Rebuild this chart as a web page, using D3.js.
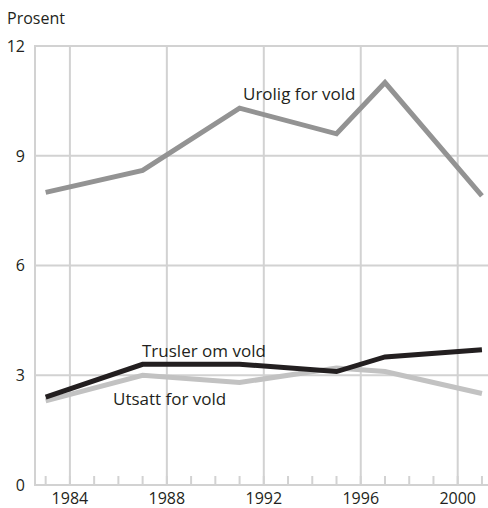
<!DOCTYPE html>
<html>
<head>
<meta charset="utf-8">
<script src="https://cdn.jsdelivr.net/npm/d3@7"></script>
<style>
  body { margin: 0; background: #fff; }
  text { font-family: "Open Sans", "Noto Sans", sans-serif; fill: #231f20; }
</style>
</head>
<body>
<div id="chart"></div>
<script>
// Data
const years = [1983, 1987, 1991, 1995, 1997, 2001];
const urolig = [8.0, 8.6, 10.3, 9.6, 11.0, 7.9];
const trusler = [2.4, 3.3, 3.3, 3.1, 3.5, 3.7];
const utsatt = [2.3, 3.0, 2.8, 3.2, 3.1, 2.5];
const yTicks = [0, 3, 6, 9, 12];
const xTicks = [1984, 1988, 1992, 1996, 2000];
const minorTicks = d3.range(1983, 2002);

const series = [
  { name: "Urolig for vold", values: urolig, color: "#939393", lx: 243, ly: 100 },
  { name: "Utsatt for vold", values: utsatt, color: "#c2c2c2", lx: 113, ly: 405 },
  { name: "Trusler om vold", values: trusler, color: "#231f20", lx: 142, ly: 357 },
];

const width = 488, height = 508;
const margin = { top: 46, right: 0, bottom: 23, left: 35 };

const svg = d3.select("#chart")
  .append("svg")
  .attr("width", width)
  .attr("height", height);

const x = d3.scaleLinear()
  .domain([1982.56, 2001.25])
  .range([margin.left, width - margin.right]);
const y = d3.scaleLinear()
  .domain([0, 12])
  .range([height - margin.bottom, margin.top]);

const grid = "#d2d2d2";

// horizontal gridlines
svg.append("g")
  .selectAll("line")
  .data(yTicks.filter(d => d > 0))
  .enter()
  .append("line")
  .attr("x1", margin.left)
  .attr("x2", width)
  .attr("y1", d => y(d))
  .attr("y2", d => y(d))
  .attr("stroke", grid)
  .attr("stroke-width", 2);

// vertical gridlines
svg.append("g")
  .selectAll("line")
  .data(xTicks)
  .enter()
  .append("line")
  .attr("x1", d => x(d))
  .attr("x2", d => x(d))
  .attr("y1", y(12))
  .attr("y2", y(0))
  .attr("stroke", grid)
  .attr("stroke-width", 2);

// minor ticks on x axis
svg.append("g")
  .selectAll("line")
  .data(minorTicks)
  .enter()
  .append("line")
  .attr("x1", d => x(d))
  .attr("x2", d => x(d))
  .attr("y1", y(0) - 9)
  .attr("y2", y(0))
  .attr("stroke", grid)
  .attr("stroke-width", 2);

// axis lines
svg.append("line")
  .attr("x1", margin.left).attr("x2", margin.left)
  .attr("y1", y(12) - 1).attr("y2", y(0) + 1)
  .attr("stroke", grid).attr("stroke-width", 2);
svg.append("line")
  .attr("x1", margin.left - 1).attr("x2", width)
  .attr("y1", y(0)).attr("y2", y(0))
  .attr("stroke", grid).attr("stroke-width", 2);

// y tick labels
svg.append("g")
  .selectAll("text")
  .data(yTicks)
  .enter()
  .append("text")
  .attr("x", 25)
  .attr("y", d => y(d))
  .attr("dy", "0.36em")
  .attr("text-anchor", "end")
  .attr("font-size", "16px")
  .text(d => d);

// x tick labels
svg.append("g")
  .selectAll("text")
  .data(xTicks)
  .enter()
  .append("text")
  .attr("x", d => x(d))
  .attr("y", 504)
  .attr("text-anchor", "middle")
  .attr("font-size", "16px")
  .text(d => d);

svg.append("text")
  .attr("x", 7)
  .attr("y", 24)
  .attr("font-size", "16px")
  .text("Prosent");

// lines
const line = d3.line()
  .x((d, i) => x(years[i]))
  .y(d => y(d));

svg.append("g")
  .selectAll("path")
  .data(series)
  .enter()
  .append("path")
  .attr("d", d => line(d.values))
  .attr("fill", "none")
  .attr("stroke", d => d.color)
  .attr("stroke-width", 5)
  .attr("stroke-linejoin", "miter");

// labels
svg.append("g")
  .selectAll("text")
  .data(series)
  .enter()
  .append("text")
  .attr("x", d => d.lx)
  .attr("y", d => d.ly)
  .attr("font-size", "17px")
  .text(d => d.name);
</script>
</body>
</html>
